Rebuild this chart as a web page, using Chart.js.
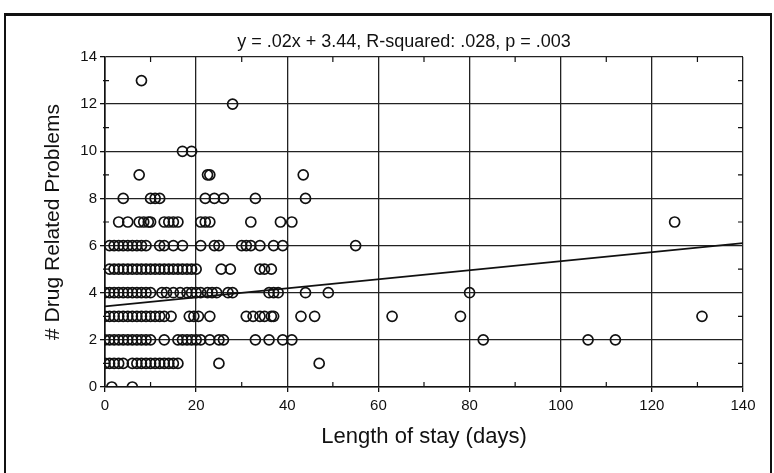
<!DOCTYPE html>
<html>
<head>
<meta charset="utf-8">
<script src="https://cdn.jsdelivr.net/npm/chart.js@4/dist/chart.umd.min.js"></script>
<style>
  body { margin: 0; background: #fff; }
  .wrap { position: relative; width: 774px; height: 473px; overflow: hidden; }
  .frame {
    position: absolute; left: 4px; top: 13px; width: 764px; height: 480px;
    border-top: 3px solid #111; border-left: 2px solid #111; border-right: 2px solid #111;
    pointer-events: none;
  }
</style>
</head>
<body>
<div class="wrap">
  <canvas id="chart" width="774" height="473"></canvas>
  <div class="frame"></div>
</div>
<script>
// Duración de estancia (días) para cada número de problemas relacionados con medicamentos
const stay0 = [1.5, 6];
const stay1 = [0, 1, 2, 3, 4, 6, 7, 8, 9, 10, 11, 12, 13, 14, 15, 16, 25, 47];
const stay2 = [0, 1, 2, 3, 4, 5, 6, 7, 8, 9, 10, 13, 16, 17, 18, 19, 20, 21, 23, 25, 26, 33, 36, 39, 41, 83, 106, 112];
const stay3 = [0, 1, 2, 3, 4, 5, 6, 7, 8, 9, 10, 11, 12, 13, 14.5, 18.5, 19.5, 20.5, 23, 31, 32.5, 34, 35, 36.5, 37, 43, 46, 63, 78, 131];
const stay4 = [0, 1, 2, 3, 4, 5, 6, 7, 8, 9, 10, 12.5, 13.5, 15, 16.5, 18, 19, 20, 21, 22.5, 23.5, 24.5, 27, 28, 36, 37, 38, 44, 49, 80];
const stay5 = [1, 2, 3, 4, 5, 6, 7, 8, 9, 10, 11, 12, 13, 14, 15, 16, 17, 18, 19, 20, 25.5, 27.5, 34, 35, 36.5];
const stay6 = [1, 2, 3, 4, 5, 6, 7, 8, 9, 12, 13, 15, 17, 21, 24, 25, 30, 31, 32, 34, 37, 39, 55];
const stay7 = [3, 5, 7.5, 8.5, 9.5, 10, 13, 14, 15, 16, 21, 22, 23, 32, 38.5, 41, 125];
const stay8 = [4, 10, 11, 12, 22, 24, 26, 33, 44];
const stay9 = [7.5, 22.5, 23, 43.5];
const stay10 = [17, 19];
const stay12 = [28];
const stay13 = [8];

const problemCounts = [0, 1, 2, 3, 4, 5, 6, 7, 8, 9, 10, 12, 13];
const stayRows = [stay0, stay1, stay2, stay3, stay4, stay5, stay6, stay7, stay8, stay9, stay10, stay12, stay13];

// Recta de regresión (extremos)
const trendX = [0, 140];
const trendY = [3.42, 6.1];

const titleText = 'y = .02x + 3.44, R-squared: .028, p = .003';
const xTitle = 'Length of stay (days)';
const yTitle = '# Drug Related Problems';

// Armar puntos
const points = [];
stayRows.forEach((row, i) => {
  row.forEach(x => points.push({ x: x, y: problemCounts[i] }));
});
const trendPoints = trendX.map((x, i) => ({ x: x, y: trendY[i] }));

const ink = '#111';
Chart.defaults.font.family = "'Liberation Sans', Arial, Helvetica, sans-serif";
Chart.defaults.color = ink;

// Marcas menores hacia adentro en los cuatro lados
const minorTicks = {
  id: 'minorTicks',
  afterDatasetsDraw(chart) {
    const { ctx, chartArea: a, scales: { x, y } } = chart;
    ctx.save();
    ctx.strokeStyle = ink;
    ctx.lineWidth = 1.2;
    ctx.beginPath();
    for (let v = x.min + 10; v < x.max; v += 20) {
      const px = x.getPixelForValue(v);
      ctx.moveTo(px, a.bottom); ctx.lineTo(px, a.bottom - 5);
      ctx.moveTo(px, a.top); ctx.lineTo(px, a.top + 5);
    }
    for (let v = y.min + 1; v < y.max; v += 2) {
      const py = y.getPixelForValue(v);
      ctx.moveTo(a.left - 2, py); ctx.lineTo(a.left + 4, py);
      ctx.moveTo(a.right, py); ctx.lineTo(a.right - 5, py);
    }
    ctx.stroke();
    ctx.restore();
  }
};

new Chart(document.getElementById('chart').getContext('2d'), {
  type: 'scatter',
  data: {
    datasets: [
      {
        data: points,
        pointRadius: 5,
        pointBorderWidth: 1.7,
        borderColor: ink,
        backgroundColor: 'rgba(0,0,0,0)',
        pointHoverRadius: 5
      },
      {
        type: 'line',
        data: trendPoints,
        borderColor: ink,
        borderWidth: 1.8,
        pointRadius: 0,
        fill: false
      }
    ]
  },
  options: {
    responsive: false,
    animation: false,
    layout: { padding: { left: 65, right: 31, top: 0, bottom: 0 } },
    plugins: {
      legend: { display: false },
      tooltip: { enabled: false },
      title: {
        display: true,
        text: titleText,
        font: { size: 18, weight: 'normal', lineHeight: 1.2 },
        color: ink,
        padding: { top: 31, bottom: 4.4 }
      }
    },
    scales: {
      x: {
        type: 'linear',
        min: 0,
        max: 140,
        ticks: { stepSize: 20, font: { size: 15 }, color: ink, padding: 5, maxRotation: 0 },
        grid: { color: '#222', lineWidth: 1.3, tickLength: 5, tickColor: ink },
        border: { display: true, color: ink, width: 1.6 },
        title: {
          display: true,
          text: xTitle,
          font: { size: 22 },
          color: ink,
          padding: { top: 0, bottom: 23 }
        },
        afterFit: s => { s.height = 86; }
      },
      y: {
        min: 0,
        max: 14,
        ticks: { stepSize: 2, font: { size: 15 }, color: ink, padding: 3 },
        grid: { color: '#222', lineWidth: 1.3, tickLength: 5, tickColor: ink },
        border: { display: true, color: ink, width: 1.6 },
        title: {
          display: true,
          text: yTitle,
          font: { size: 21 },
          color: ink,
          padding: { top: -24.6, bottom: 0 }
        },
        afterFit: s => { s.width = 40; }
      }
    }
  },
  plugins: [minorTicks]
});
</script>
</body>
</html>
